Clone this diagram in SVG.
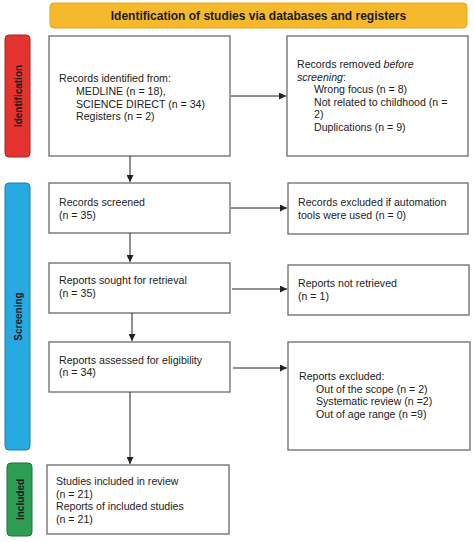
<svg xmlns="http://www.w3.org/2000/svg" width="474" height="542" viewBox="0 0 474 542">
<style>
.box{fill:#fff;stroke:#6b6b6b;stroke-width:1.3}
.t{font-family:"Liberation Sans",Arial,sans-serif;font-size:10.6px;fill:#222}
.side{font-family:"Liberation Sans",Arial,sans-serif;font-size:10px;font-weight:bold;fill:#1a1a1a;text-anchor:middle}
.c{stroke:#222;stroke-width:1;fill:none;marker-end:url(#ah)}
</style>
<defs>
<marker id="ah" viewBox="0 0 10 10" refX="10" refY="5" markerWidth="7" markerHeight="7" markerUnits="userSpaceOnUse" orient="auto">
<path d="M0,0 L10,5 L0,10 z" fill="#222"/>
</marker>
</defs>
<rect width="474" height="542" fill="#fff"/>
<g id="title">
<rect x="50" y="3" width="417" height="25" rx="4" fill="#f6b92b" stroke="#e3a51d" stroke-width="1"/>
<text x="258.5" y="20" font-family="'Liberation Sans',Arial,sans-serif" font-size="12" font-weight="bold" fill="#1a1a1a" text-anchor="middle">Identification of studies via databases and registers</text>
</g>
<g id="phase-identification">
<rect x="5" y="35" width="25" height="122" rx="4" fill="#e5332f" stroke="#a72420" stroke-width="1"/>
<text class="side" transform="translate(21.5,96) rotate(-90)">Identification</text>
</g>
<g id="phase-screening">
<rect x="5" y="183" width="25" height="267" rx="4" fill="#27a9e1" stroke="#1d7fab" stroke-width="1"/>
<text class="side" transform="translate(21.5,316.5) rotate(-90)">Screening</text>
</g>
<g id="phase-included">
<rect x="7" y="463" width="25" height="73" rx="4" fill="#2f9e55" stroke="#1f6f3b" stroke-width="1"/>
<text class="side" transform="translate(23.5,499.5) rotate(-90)">Included</text>
</g>
<g id="records-identified">
<rect class="box" x="49" y="36" width="181" height="120"/>
<text class="t" x="59" y="82">Records identified from:</text>
<text class="t" x="76" y="95">MEDLINE (n = 18),</text>
<text class="t" x="76" y="107.5">SCIENCE DIRECT (n = 34)</text>
<text class="t" x="76" y="120">Registers (n = 2)</text>
</g>
<g id="records-removed">
<rect class="box" x="287" y="36" width="181" height="120"/>
<text class="t" x="297" y="68">Records removed <tspan font-style="italic">before</tspan></text>
<text class="t" x="297" y="80.5"><tspan font-style="italic">screening</tspan>:</text>
<text class="t" x="314" y="93">Wrong focus (n = 8)</text>
<text class="t" x="314" y="105.5">Not related to childhood (n =</text>
<text class="t" x="314" y="118">2)</text>
<text class="t" x="314" y="130.5">Duplications (n = 9)</text>
</g>
<g id="records-screened">
<rect class="box" x="49" y="183" width="181" height="50"/>
<text class="t" x="59" y="206">Records screened</text>
<text class="t" x="59" y="218.5">(n = 35)</text>
</g>
<g id="records-excluded">
<rect class="box" x="288" y="183" width="180" height="51"/>
<text class="t" x="298" y="206">Records excluded if automation</text>
<text class="t" x="298" y="218.5">tools were used (n = 0)</text>
</g>
<g id="reports-sought">
<rect class="box" x="49" y="263" width="181" height="50"/>
<text class="t" x="59" y="284">Reports sought for retrieval</text>
<text class="t" x="59" y="296.5">(n = 35)</text>
</g>
<g id="reports-not-retrieved">
<rect class="box" x="288" y="265" width="181" height="50"/>
<text class="t" x="298" y="287">Reports not retrieved</text>
<text class="t" x="298" y="299.5">(n = 1)</text>
</g>
<g id="reports-assessed">
<rect class="box" x="49" y="342" width="181" height="50"/>
<text class="t" x="59" y="363.5">Reports assessed for eligibility</text>
<text class="t" x="59" y="376">(n = 34)</text>
</g>
<g id="reports-excluded">
<rect class="box" x="288" y="342" width="182" height="108"/>
<text class="t" x="299" y="379.5">Reports excluded:</text>
<text class="t" x="316" y="392.5">Out of the scope (n = 2)</text>
<text class="t" x="316" y="405">Systematic review (n =2)</text>
<text class="t" x="316" y="417.5">Out of age range (n =9)</text>
</g>
<g id="studies-included">
<rect class="box" x="47" y="465" width="182" height="69"/>
<text class="t" x="56" y="485">Studies included in review</text>
<text class="t" x="56" y="497.5">(n = 21)</text>
<text class="t" x="56" y="510">Reports of included studies</text>
<text class="t" x="56" y="522.5">(n = 21)</text>
</g>
<g id="connectors">
<path class="c" d="M231,96 H286"/>
<path class="c" d="M130,156 V182"/>
<path class="c" d="M231,208 H287"/>
<path class="c" d="M130,233 V262"/>
<path class="c" d="M232,289 H287"/>
<path class="c" d="M132,313 V341"/>
<path class="c" d="M233,368 H287"/>
<path class="c" d="M130,392 V464"/>
</g>
</svg>
